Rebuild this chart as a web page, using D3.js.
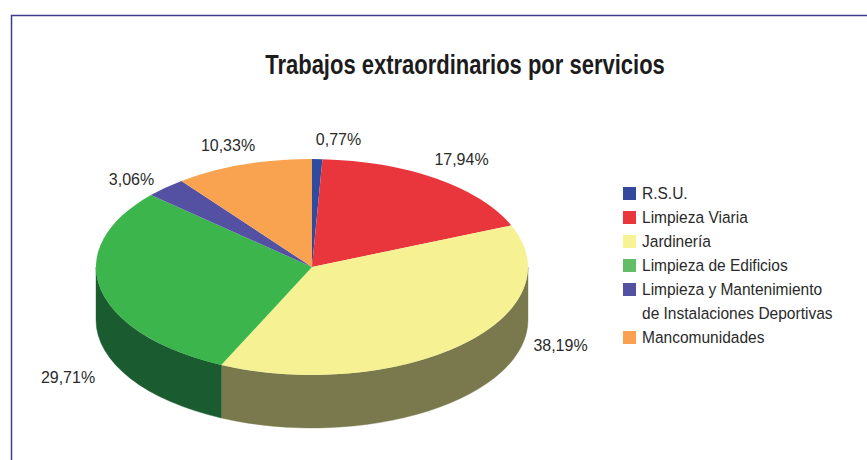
<!DOCTYPE html>
<html><head><meta charset="utf-8">
<script src="https://cdn.jsdelivr.net/npm/d3@7/dist/d3.min.js"></script>
<style>html,body{margin:0;background:#fff}svg{display:block}
text{font-family:"Liberation Sans",sans-serif;fill:#2a2a2a}</style></head>
<body><svg id="c" width="867" height="460"></svg>
<script>
const categories=["R.S.U.","Limpieza Viaria","Jardinería","Limpieza de Edificios","Limpieza y Mantenimiento|de Instalaciones Deportivas","Mancomunidades"];
const values=[0.77,17.94,38.19,29.71,3.06,10.33];
const valueLabels=["0,77%","17,94%","38,19%","29,71%","3,06%","10,33%"];
const topColors=["#2f4b9f","#e8363c","#f6f193","#3cb64c","#5450a2","#f9a350"];
const sideColors=["#1c2c60","#8a2024","#79794d","#1a5c2f","#322f60","#94602f"];
const legendColors=["#35499c","#e8363c","#f7f394","#62bd65","#5450a2","#fba050"];
const labelPos=[[338.5,145],[461.5,165],[560.5,351],[68,383],[131.5,185],[228,151]];
const cx=312,cy=267,rx=216,ry=108,depth=53;
const svg=d3.select("#c");
svg.append("path").attr("d","M867 15.5H11.5V460").attr("fill","none").attr("stroke","#3f3a8c").attr("stroke-width",1.5);
svg.append("text").attr("transform","translate(465,74) scale(0.815,1)").attr("text-anchor","middle").attr("font-size",27).attr("font-weight","bold").style("fill","#1c1c1c").text("Trabajos extraordinarios por servicios");
const pieData=d3.pie().sort(null)(values);
const px=a=>cx+rx*Math.sin(a), py=a=>cy-ry*Math.cos(a);
const sideG=svg.append("g");
pieData.forEach((d,i)=>{
  const a0=Math.max(d.startAngle,Math.PI/2),a1=Math.min(d.endAngle,Math.PI*1.5);
  if(a1<=a0)return;
  sideG.append("path").attr("fill",sideColors[i]).attr("stroke",sideColors[i]).attr("stroke-width",.4)
   .attr("d",`M${px(a0)} ${py(a0)}A${rx} ${ry} 0 0 1 ${px(a1)} ${py(a1)}L${px(a1)} ${py(a1)+depth}A${rx} ${ry} 0 0 0 ${px(a0)} ${py(a0)+depth}Z`);
});
const arc=d3.arc().innerRadius(0).outerRadius(rx);
const topG=svg.append("g").attr("transform",`translate(${cx},${cy}) scale(1,${ry/rx})`);
topG.selectAll("path").data(pieData).join("path").attr("d",arc).attr("fill",(d,i)=>topColors[i]);
svg.append("g").selectAll("text").data(valueLabels).join("text").attr("text-anchor","middle").attr("font-size",17)
 .attr("transform",(d,i)=>`translate(${labelPos[i][0]},${labelPos[i][1]}) scale(0.94,1)`).text(d=>d);
const rowY=d3.scaleLinear().domain([0,1]).range([199,223]);
let row=0;
const lg=svg.append("g");
categories.forEach((c,i)=>{
  const y=rowY(row);
  lg.append("rect").attr("x",623).attr("y",y-12).attr("width",13).attr("height",13).attr("fill",legendColors[i]);
  c.split("|").forEach(t=>{
    lg.append("text").attr("transform",`translate(642,${rowY(row)}) scale(0.913,1)`).attr("font-size",17).text(t);
    row++;
  });
});
</script></body></html>
